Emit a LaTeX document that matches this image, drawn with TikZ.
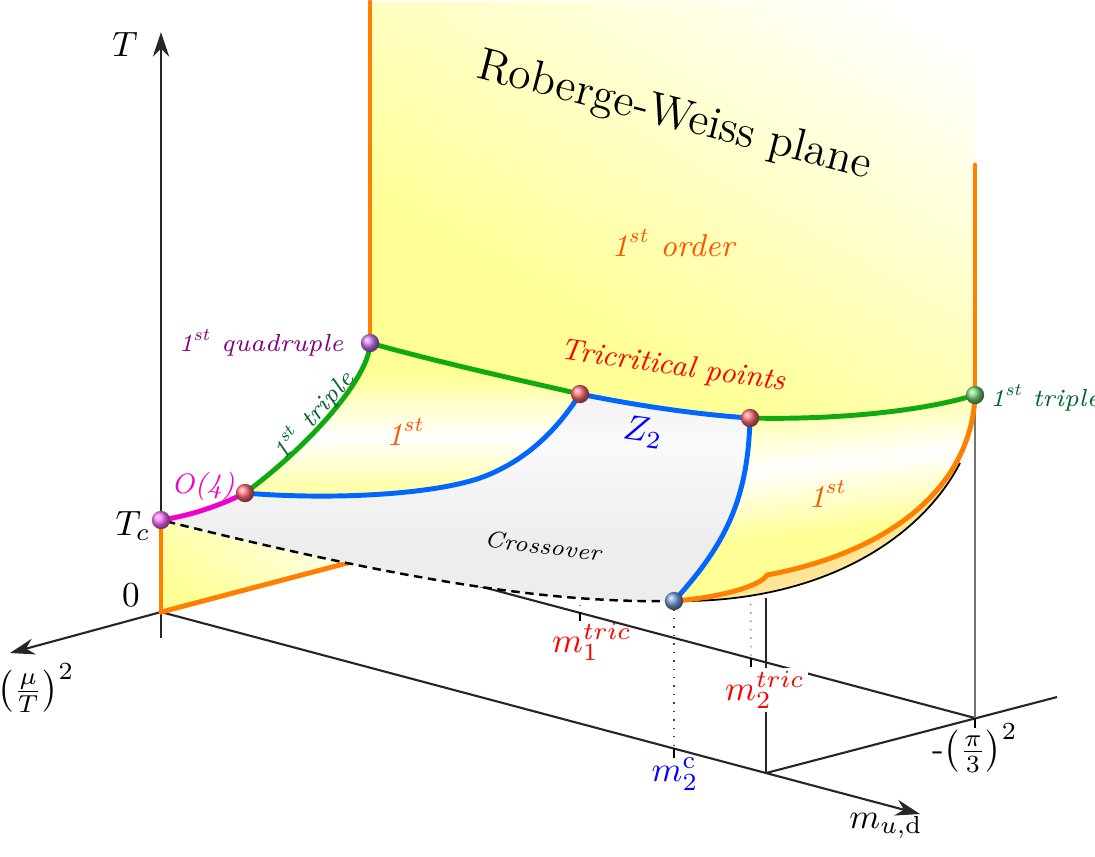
\documentclass[tikz,border=0pt]{standalone}
\usepackage{amsmath}
\usepackage{xcolor}
\usepackage{tikz}
\usetikzlibrary{arrows.meta,calc,shadings}
\definecolor{orng}{RGB}{255,128,0}
\definecolor{grn}{RGB}{16,170,16}
\definecolor{blu}{RGB}{0,102,255}
\definecolor{dgrn}{RGB}{0,100,45}
\definecolor{purp}{RGB}{128,0,128}
\definecolor{magn}{RGB}{240,0,200}
\definecolor{yel}{RGB}{255,255,150}
\definecolor{tann}{RGB}{255,230,150}
\definecolor{ordr}{RGB}{255,85,0}
\definecolor{ballred}{RGB}{255,105,115}
\definecolor{ballpur}{RGB}{200,115,240}
\definecolor{ballgrn}{RGB}{115,210,115}
\definecolor{ballblu}{RGB}{115,155,215}
\definecolor{ballmag}{RGB}{255,110,255}
\pgfdeclareverticalshading{rwfade}{100bp}{color(0bp)=(yel); color(35bp)=(yel); color(80bp)=(white); color(100bp)=(white)}
\pgfdeclareverticalshading{bandL}{100bp}{color(0bp)=(yel); color(25bp)=(yel); color(45bp)=(white); color(65bp)=(yel); color(100bp)=(yel)}
\pgfdeclareverticalshading{bandR}{100bp}{color(0bp)=(yel); color(42bp)=(yel); color(58bp)=(white); color(74bp)=(yel); color(100bp)=(yel)}
\pgfdeclareverticalshading{greyband}{100bp}{color(0bp)=(black!7); color(40bp)=(black!7); color(63bp)=(black!2); color(85bp)=(black!8); color(100bp)=(black!8)}
\tikzset{
  ax/.style ={draw=black!85,line width=0.6pt},
  ar/.style ={-{Stealth[length=7pt,width=4.6pt]}},
  ln/.style ={line width=1.4pt,line cap=round},
  bl/.style ={circle,inner sep=0pt,minimum size=5.2pt,shading=ball,ball color=#1},
  lab/.style={font=\fontsize{7}{8.5}\selectfont\itshape},
  tk/.style ={line width=0.5pt},
}

\begin{document}
\begin{tikzpicture}[x=0.01cm,y=-0.01cm]
  \useasboundingbox (0,0) rectangle (1095,856);
  % key points
  \coordinate (O)     at (161,612);
  \coordinate (tc)    at (161,520);
  \coordinate (o4)    at (245,493);
  \coordinate (quad)  at (370,343);
  \coordinate (tr1)   at (580,394);
  \coordinate (tr2)   at (750,418);
  \coordinate (tri)   at (975,395);
  \coordinate (mc)    at (674,601);
  \coordinate (kink)  at (767,575);
  \coordinate (meet)  at (960,463);
  \coordinate (bmid)  at (480,478);
  \coordinate (rwtop) at (370,2);
  \coordinate (rwr)   at (975,165);
  \coordinate (rw0)   at (370,557);
  \coordinate (rwm)   at (975,718);
  \coordinate (mend)  at (766,773);
  \coordinate (mfar)  at (1057,697);
  \coordinate (tanb)  at (766,598);
  \coordinate (t1)    at (580,612);
  \coordinate (t2)    at (751,658);
  \coordinate (tm)    at (674,748);
  % axes
  \draw[ax,ar] (161,638) -- (161,32) coordinate (Ttip);
  \draw[ax,ar] (O) -- (10,653) coordinate (mutip);
  \draw[ax,ar] (O) -- (920,814) coordinate (mtip);
  \draw[ax] (rw0) -- (rwm);
  \draw[ax] (mend) -- (mfar);
  \draw[ax] (mend) -- (tanb);
  \draw[ax,draw=black!55] (rwm) -- (tri);
  % ticks and guides
  \draw[tk] (152,520) -- (tc);
  \draw[tk] (t1) -- ++(0,9);
  \draw[tk] (t2) -- ++(0,9);
  \draw[tk] (tm) -- ++(0,10);
  \draw[tk] (rwm) -- ++(0,10);
  \draw[dotted,black!45] (tr1) -- (t1);
  \draw[dotted,black!45] (tr2) -- (t2);
  \draw[dotted,black!75] (mc) -- (tm);
  % Roberge-Weiss plane
  \shade[shading=rwfade,shading angle=-30] (rwtop) -- (quad)
    .. controls (430,360) and (510,378) .. (tr1)
    .. controls (630,404) and (690,414) .. (tr2)
    .. controls (830,420) and (920,412) .. (tri) -- (975,0) -- cycle;
  % wedge below Tc
  \shade[bottom color=yel,top color=yel!15,shading angle=-40] (tc) -- (O) -- (rw0) -- cycle;
  \draw[ln,orng] (O) -- (rw0);
  \draw[ln,orng] (tc) -- (O);
  % underside of right sheet
  \fill[tann] (mc) .. controls (820,603) and (920,540) .. (meet) -- (tri) -- (kink)
    .. controls (760,587) and (715,598) .. (mc);
  \draw[line width=0.5pt] (mc) .. controls (820,603) and (920,540) .. (meet);
  % right sheet
  \shade[shading=bandR,shading angle=6] (tr2)
    .. controls (830,420) and (920,412) .. (tri)
    .. controls (972,480) and (900,550) .. (kink)
    .. controls (760,587) and (715,598) .. (mc)
    .. controls (725,545) and (748,500) .. (tr2);
  % left sheet
  \shade[shading=bandL] (o4)
    .. controls (314,442) and (370,375) .. (quad)
    .. controls (430,360) and (510,378) .. (tr1)
    .. controls (560,425) and (530,460) .. (bmid)
    .. controls (430,495) and (330,500) .. (o4);
  % crossover
  \shade[shading=greyband] (tc)
    .. controls (195,515) and (225,503) .. (o4)
    .. controls (330,500) and (430,495) .. (bmid)
    .. controls (530,460) and (560,425) .. (tr1)
    .. controls (630,404) and (690,414) .. (tr2)
    .. controls (748,500) and (725,545) .. (mc)
    .. controls (560,603) and (420,585) .. (tc);
  % lines
  \draw[ln,orng] (rwtop) -- (quad);
  \draw[ln,orng] (rwr) -- (tri);
  \draw[ln,orng] (tri) .. controls (972,480) and (900,550) .. (kink)
    .. controls (760,587) and (715,598) .. (mc);
  \draw[ln,grn] (o4) .. controls (314,442) and (370,375) .. (quad);
  \draw[ln,grn] (quad) .. controls (430,360) and (510,378) .. (tr1);
  \draw[ln,grn] (tr2) .. controls (830,420) and (920,412) .. (tri);
  \draw[ln,blu] (o4) .. controls (330,500) and (430,495) .. (bmid)
    .. controls (530,460) and (560,425) .. (tr1);
  \draw[ln,blu] (tr1) .. controls (630,404) and (690,414) .. (tr2);
  \draw[ln,blu] (tr2) .. controls (748,500) and (725,545) .. (mc);
  \draw[ln,magn] (tc) .. controls (195,515) and (225,503) .. (o4);
  \draw[dash pattern=on 2.4pt off 1.6pt,line width=0.7pt] (mc) .. controls (560,603) and (420,585) .. (tc);
  % points
  \node[bl=ballmag] (TcB) at (tc)   {};
  \node[bl=ballred] (O4B) at (o4)   {};
  \node[bl=ballpur] (QB)  at (quad) {};
  \node[bl=ballred] (T1B) at (tr1)  {};
  \node[bl=ballred] (T2B) at (tr2)  {};
  \node[bl=ballgrn] (TrB) at (tri)  {};
  \node[bl=ballblu] (McB) at (mc)   {};
  % axis labels
  \node (Tlab)  at (125,44)  {$T$};
  \node (Tclab) at (133,526) {$T_c$};
  \node (zlab)  at (131,595) {$0$};
  \node (mulab) at (36,688)  {$\left(\frac{\mu}{T}\right)^2$};
  \node (mlab)  at (886,826) {$m_{u,\mathrm{d}}$};
  \node[blue] (mclab) at (675,774) {$m_2^{\mathrm{c}}$};
  \node[red]  (m1lab) at (592,642) {$m_1^{tric}$};
  \node[red,fill=white,inner sep=1pt] (m2lab) at (765,690) {$m_2^{tric}$};
  \node (pilab) at (975,748) {-$\left(\frac{\pi}{3}\right)^2$};
  % region labels
  \node[lab,purp,anchor=east] (qlab) at (356,343) {1\textsuperscript{st} quadruple};
  \node[lab,dgrn,rotate=49] (trlL) at (313,415) {1\textsuperscript{st} triple};
  \node[lab,magn,font=\footnotesize\itshape] (o4lab) at (203,486) {O(4)};
  \node[ordr,font=\small\itshape] (f1L) at (405,432) {1\textsuperscript{st}};
  \node[red,font=\fontsize{8.6}{10}\selectfont\itshape,rotate=-8] (tclab) at (673,367) {Tricritical points};
  \node[blue,rotate=-8] (z2lab) at (643,432) {$Z_2$};
  \node[font=\fontsize{6.6}{8}\selectfont\itshape,rotate=-7] (crlab) at (543,546) {Crossover};
  \node[ordr,font=\small\itshape] (f1R) at (827,494) {1\textsuperscript{st}};
  \node[lab,dgrn,anchor=west,inner sep=1pt] (trlR) at (986,398) {1\textsuperscript{st} triple};
  \node[ordr,font=\small\itshape] (ordlab) at (673,243) {1\textsuperscript{st} order};
  \node[font=\fontsize{13}{15}\selectfont,rotate=-14.5] (rwlab) at (674,117) {Roberge-Weiss plane};
\end{tikzpicture}
\end{document}
